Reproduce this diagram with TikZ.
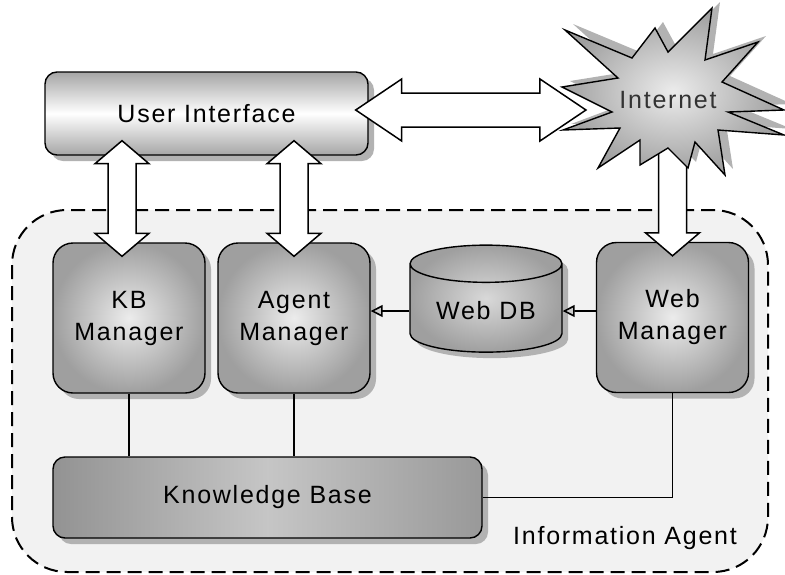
\documentclass[tikz,border=0pt]{standalone}
\usepackage{fontspec}
\setmainfont{Liberation Sans}[LetterSpace=7]
\usetikzlibrary{shapes.geometric,shadows,calc,arrows.meta}

\tikzset{
  shade/.style={drop shadow={shadow xshift=6pt, shadow yshift=-6pt, fill=gray!60, opacity=1}},
  manager/.style={draw, line width=1.4pt, rounded corners=20pt, minimum width=152pt,
    minimum height=150pt, align=center, inner color=gray!15, outer color=gray!75, shade},
  uibox/.style={draw, line width=1.4pt, rounded corners=12pt, minimum width=323pt,
    minimum height=83pt, top color=gray!70, bottom color=gray!70, middle color=white, shade},
  kbase/.style={draw, line width=1.4pt, rounded corners=12pt, minimum width=429pt,
    minimum height=81pt, left color=gray!85, right color=gray!80, middle color=gray!45, shade},
  dbase/.style={draw, line width=1.4pt, cylinder, shape border rotate=90, aspect=0.35,
    minimum width=152pt, minimum height=107pt, inner color=gray!30, outer color=gray!75, shade},
  region/.style={draw, dashed, dash pattern=on 14pt off 7pt, line width=2pt, fill=gray!10,
    rounded corners=55pt},
  fatarrow/.style={draw, fill=white, line width=1.5pt, line join=miter},
  link/.style={line width=1.5pt},
  dblink/.style={line width=1.6pt, -{Triangle[open, fill=gray!40, length=12pt, width=12pt]}},
}

% vertical fat double arrow, top tip #1, bottom tip #2
\newcommand{\vfatarrow}[2]{%
  \draw[fatarrow] let \p1=(#1), \p2=(#2) in
    (\x1,\y1) -- (\x1+27pt,\y1-23pt) -- (\x1+14pt,\y1-23pt) -- (\x1+14pt,\y2+23pt)
    -- (\x1+27pt,\y2+23pt) -- (\x1,\y2) -- (\x1-27pt,\y2+23pt) -- (\x1-14pt,\y2+23pt)
    -- (\x1-14pt,\y1-23pt) -- (\x1-27pt,\y1-23pt) -- cycle;}
% horizontal fat double arrow, left tip #1, right tip #2
\newcommand{\hfatarrow}[2]{%
  \draw[fatarrow] let \p1=(#1), \p2=(#2) in
    (\x1,\y1) -- (\x1+46pt,\y1+31pt) -- (\x1+46pt,\y1+17pt) -- (\x2-46pt,\y1+17pt)
    -- (\x2-46pt,\y1+31pt) -- (\x2,\y1) -- (\x2-46pt,\y1-31pt) -- (\x2-46pt,\y1-17pt)
    -- (\x1+46pt,\y1-17pt) -- (\x1+46pt,\y1-31pt) -- cycle;}

\begin{document}
\begin{tikzpicture}[x=1pt, y=-1pt, font=\fontsize{25}{32}\selectfont]
  \useasboundingbox (0,0) rectangle (785,574);

  % information agent area
  \draw[region] (12,210) rectangle (768,572);
  \node (ia) at (625,538) {Information Agent};

  % boxes
  \node[uibox] (ui) at (206.5,113.5) {User Interface};
  \node[manager] (kbm) at (129,318) {KB\\Manager};
  \node[manager] (agm) at (294,318) {Agent\\Manager};
  \node[dbase] (wdb) at (486,311) {Web DB};
  \node[manager] (wbm) at (672.5,317.5) {Web\\Manager};
  \node[kbase] (kb) at (267.5,497.5) {Knowledge Base};

  % lines
  \draw[link] (kbm.south) -- (kbm.south |- kb.north);
  \draw[link] (agm.south) -- (agm.south |- kb.north);
  \draw[link] (wbm.south) |- (kb.east);
  \draw[dblink] (wbm.west |- wdb) -- (wdb.east);
  \draw[dblink] (wdb.west) -- (wdb.west -| agm.east);

  % internet
  \coordinate (nc) at (668,100);
  \vfatarrow{$(wbm.north)+(0,-120)$}{$(wbm.north)+(0,14)$}
  \fill[gray!60] (571,124) -- (619,106) -- (570,81) -- (626,72) -- (573,24) -- (640,52)
    -- (663,22) -- (676,46) -- (720,2) -- (713,54) -- (766,36) -- (730,76) -- (792,104)
    -- (736,106) -- (792,129) -- (726,124) -- (733,169) -- (703,136) -- (696,162)
    -- (676,142) -- (648,159) -- (648,134) -- (606,162) -- (628,122) -- cycle;
  \draw[line width=1.4pt, inner color=gray!15, outer color=gray!75]
    (563,130) -- (612,112) -- (562,87) -- (618,78) -- (565,30) -- (632,58)
    -- (655,28) -- (668,52) -- (712,8) -- (705,60) -- (758,42) -- (722,82) -- (784,110)
    -- (728,112) -- (784,135) -- (718,130) -- (725,175) -- (695,142) -- (688,168)
    -- (668,148) -- (640,165) -- (640,140) -- (598,168) -- (620,128) -- cycle;
  \node[text=black!80] (net) at (nc) {Internet};

  % fat arrows
  \hfatarrow{$(ui.east)+(-13,-3.5)$}{$(net.west)+(-30,0)$}
  \vfatarrow{$(ui.south -| kbm.north)+(-7,-15)$}{$(kbm.north)+(-7,14)$}
  \vfatarrow{$(ui.south -| agm.north)+(0,-15)$}{$(agm.north)+(0,14)$}
\end{tikzpicture}
\end{document}
